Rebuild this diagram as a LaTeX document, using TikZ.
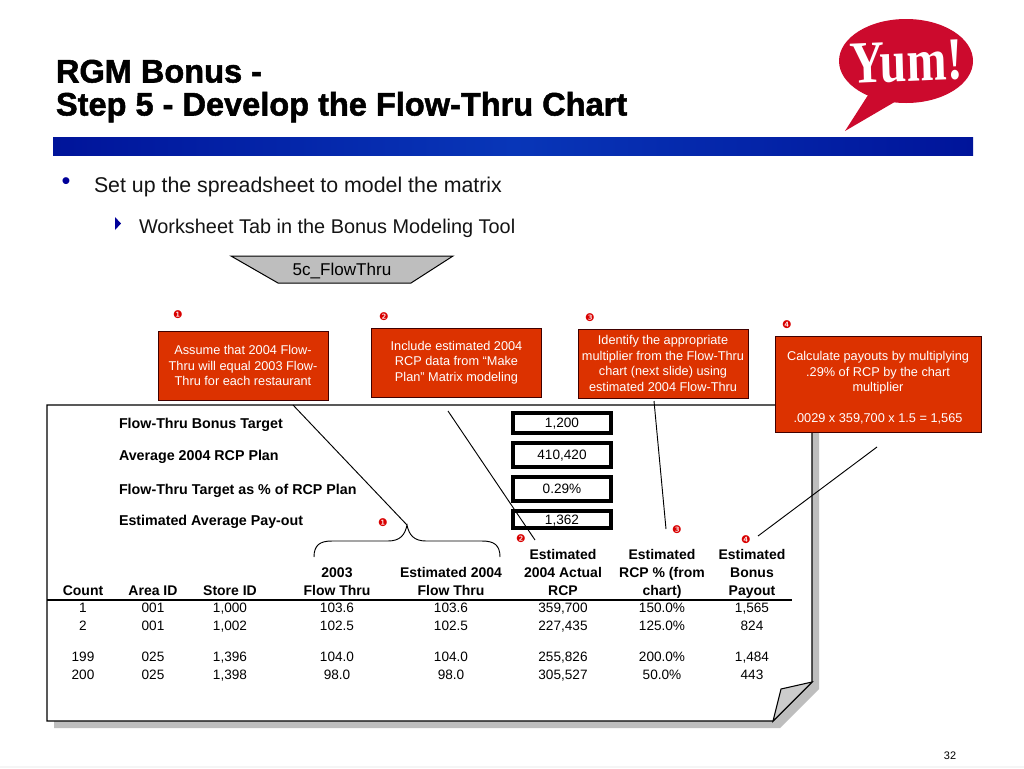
\documentclass[tikz,border=0pt]{standalone}
\usepackage{fontspec}
\setmainfont{Liberation Sans}
\newfontfamily\serifb{Liberation Serif}
\newfontfamily\dingb{DejaVu Sans}
\newfontfamily\titlef[BoldFont={Liberation Sans Bold},BoldFeatures={FakeBold=1.6}]{Liberation Sans}
\usetikzlibrary{calc}
\definecolor{boxred}{HTML}{DC3200}
\definecolor{yumred}{HTML}{CC0A2D}
\definecolor{navy}{HTML}{00149A}
\definecolor{barmid}{HTML}{0836B8}
\definecolor{shadowg}{HTML}{BEBEBE}
\definecolor{bullb}{HTML}{000099}
\tikzset{
 x=0.75pt,y=-0.75pt,
 every node/.style={inner sep=0pt,outer sep=0pt},
 titletext/.style={anchor=base west,font=\titlef\bfseries\fontsize{24.4}{27}\selectfont},
 bodytext/.style={anchor=base west,font=\fontsize{16}{18}\selectfont,text=black!92},
 redbox/.style={draw=black!75!red,line width=0.75pt,fill=boxred,text=white,align=center,font=\fontsize{9.55}{11.6}\selectfont},
 valbox/.style={draw=black,line width=2.6pt,fill=white,text depth=0pt,font=\fontsize{10.2}{12}\selectfont},
 rowlabel/.style={anchor=base west,font=\bfseries\fontsize{10.7}{12}\selectfont},
 head/.style={anchor=base,font=\bfseries\fontsize{10.5}{12}\selectfont},
 cell/.style={anchor=base,font=\fontsize{10.2}{12}\selectfont},
 badge/.style={text=red!85!black,font=\dingb\fontsize{8}{9}\selectfont},
 leader/.style={draw=black,line width=0.7pt},
}
\begin{document}
\begin{tikzpicture}
\useasboundingbox (0,0) rectangle (1024,768);
\fill[white] (0,0) rectangle (1024,768);
\fill[black!4] (0,766) rectangle (1024,768);
% title
\node[titletext] (t1) at (56,82.5) {RGM Bonus -};
\node[titletext] (t2) at (56,115.5) {Step 5 - Develop the Flow-Thru Chart};
% logo
\fill[yumred] (906,61) ellipse [x radius=67,y radius=42];
\fill[yumred] (870,92) -- (845,131) -- (898,100) -- cycle;
\node[text=white,font=\serifb\bfseries\fontsize{45}{46}\selectfont,xscale=0.8,rotate=2] (logo) at (906,62) {Yum!};
% bar
\shade[left color=navy,right color=navy,middle color=barmid] (53,137) rectangle (973,155);
% bullets
\node[text=bullb,font=\fontsize{19}{20}\selectfont,anchor=base] (b1) at (66,189) {•};
\node[bodytext] (s1) at (94,192) {Set up the spreadsheet to model the matrix};
\fill[bullb] (115,217) -- (121,223.5) -- (115,230) -- cycle;
\node[bodytext,font=\fontsize{14.9}{17}\selectfont] (s2) at (139,233) {Worksheet Tab in the Bonus Modeling Tool};
% trapezoid
\draw[fill=shadowg,draw=black,line width=0.75pt] (231,256) -- (453,256) -- (411,283) -- (278,283) -- cycle;
\node[font=\fontsize{12.8}{14}\selectfont] (tab) at (342,271) {5c\_FlowThru};
% document shadow and page
\fill[shadowg] (54,412) -- (819,412) -- (819,689) -- (780,728) -- (54,728) -- cycle;
\draw[fill=white,draw=black,line width=0.8pt] (47,405) -- (812,405) -- (812,682) -- (773,721) -- (47,721) -- cycle;
\draw[fill=black!20,draw=black,line width=0.8pt] (773,721) -- (781,689) -- (812,682) -- cycle;
% red boxes
\node[redbox,minimum width=170*0.75pt,minimum height=69*0.75pt] (r1) at (243,365.5) {Assume that 2004 Flow-\\Thru will equal 2003 Flow-\\Thru for each restaurant};
\node[redbox,minimum width=170*0.75pt,minimum height=69*0.75pt] (r2) at (456.5,362.5) {Include estimated 2004\\RCP data from “Make\\Plan” Matrix modeling};
\node[redbox,minimum width=170*0.75pt,minimum height=69*0.75pt] (r3) at (663,363.5) {Identify the appropriate\\multiplier from the Flow-Thru\\chart (next slide) using\\estimated 2004 Flow-Thru};
\node[redbox,minimum width=206*0.75pt,minimum height=96*0.75pt] (r4) at (878,384.5) {\rule{0pt}{12pt}Calculate payouts by multiplying\\.29\% of RCP by the chart\\multiplier\\[11.6pt].0029 x 359,700 x 1.5 = 1,565};
% badges
\node[badge] (ba1) at (178,315) {❶};
\node[badge] (ba2) at (384,317) {❷};
\node[badge] (ba3) at (590,318) {❸};
\node[badge] (ba4) at (787,325) {❹};
\node[badge] (bb1) at (383,523) {❶};
\node[badge] (bb2) at (521,539) {❷};
\node[badge] (bb3) at (677,530) {❸};
\node[badge] (bb4) at (746,540) {❹};
% target rows
\node[rowlabel] (l1) at (119,428) {Flow-Thru Bonus Target};
\node[rowlabel] (l2) at (119,460) {Average 2004 RCP Plan};
\node[rowlabel] (l3) at (119,494) {Flow-Thru Target as \% of RCP Plan};
\node[rowlabel] (l4) at (119,525) {Estimated Average Pay-out};
\node[valbox,minimum width=98*0.75pt,minimum height=20*0.75pt] (v1) at (562,423) {1,200};
\node[valbox,minimum width=98*0.75pt,minimum height=24*0.75pt] (v2) at (562,455) {410,420};
\node[valbox,minimum width=98*0.75pt,minimum height=24*0.75pt] (v3) at (562,489) {0.29\%};
\node[valbox,minimum width=98*0.75pt,minimum height=17*0.75pt] (v4) at (562,519.5) {1,362};
% headers
\node[head] (h6a) at (563,559) {Estimated};
\node[head] (h7a) at (662,559) {Estimated};
\node[head] (h8a) at (752,559) {Estimated};
\node[head] (h4a) at (337,577) {2003};
\node[head] (h5a) at (451,577) {Estimated 2004};
\node[head] (h6b) at (563,577) {2004 Actual};
\node[head] (h7b) at (662,577) {RCP \% (from};
\node[head] (h8b) at (752,577) {Bonus};
\node[head] (h1) at (83,595) {Count};
\node[head] (h2) at (153,595) {Area ID};
\node[head] (h3) at (230,595) {Store ID};
\node[head] (h4b) at (337,595) {Flow Thru};
\node[head] (h5b) at (451,595) {Flow Thru};
\node[head] (h6c) at (563,595) {RCP};
\node[head] (h7c) at (662,595) {chart)};
\node[head] (h8c) at (752,595) {Payout};
\coordinate (ruleL) at (47,600);
\coordinate (ruleR) at (792,600);
\draw[draw=black,line width=1pt] (ruleL) -- (ruleR);
% rows
\foreach \y/\a/\b/\c/\d/\e/\f/\g/\h in {
 612/1/001/{1,000}/103.6/103.6/{359,700}/150.0\%/{1,565},
 630/2/001/{1,002}/102.5/102.5/{227,435}/125.0\%/824,
 661/199/025/{1,396}/104.0/104.0/{255,826}/200.0\%/{1,484},
 679/200/025/{1,398}/98.0/98.0/{305,527}/50.0\%/443}{
 \node[cell] at (83,\y) {\a};
 \node[cell] at (153,\y) {\b};
 \node[cell] at (230,\y) {\c};
 \node[cell] at (337,\y) {\d};
 \node[cell] at (451,\y) {\e};
 \node[cell] at (563,\y) {\f};
 \node[cell] at (662,\y) {\g};
 \node[cell] at (752,\y) {\h};
}
% brace
\coordinate (brL) at (314,557);
\coordinate (brT) at (407,525);
\coordinate (brR) at (500,557);
\draw[leader] (brL) .. controls (314,545) and (320,541) .. (332,541) -- (388,541) .. controls (400,541) and (405,535) .. (brT) .. controls (409,535) and (414,541) .. (426,541) -- (482,541) .. controls (494,541) and (500,545) .. (brR);
% leaders
\coordinate (a1) at (293,405);
\coordinate (a2) at (448,411);
\coordinate (e2) at (535,540);
\coordinate (a3) at (654,401);
\coordinate (e3) at (666,529);
\coordinate (a4) at (877,447);
\coordinate (e4) at (758,536);
\draw[leader] (a1) -- (brT);
\draw[leader] (a2) -- (e2);
\draw[leader] (a3) -- (e3);
\draw[leader] (a4) -- (e4);
\node[font=\fontsize{8.2}{10}\selectfont] (pg) at (950,756) {32};
\end{tikzpicture}
\end{document}
